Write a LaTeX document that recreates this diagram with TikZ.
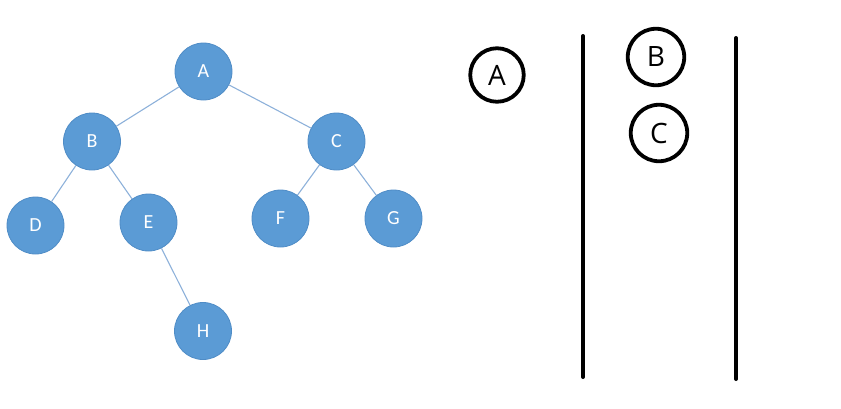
\documentclass[tikz,border=0pt]{standalone}
\usepackage{fontspec}
\newfontfamily\treefont{Carlito}
\newfontfamily\boxfont{Open Sans}
\definecolor{nodefill}{HTML}{5B9BD5}
\definecolor{nodeedge}{HTML}{4F8CC6}
\definecolor{edgecol}{HTML}{8DB1DA}
\begin{document}
\begin{tikzpicture}[x=1pt,y=-1pt,
  tnode/.style={circle,fill=nodefill,draw=nodeedge,line width=0.8pt,minimum size=57pt,inner sep=0pt,text=white,font=\treefont\fontsize{20}{20}\selectfont},
  tedge/.style={draw=edgecol,line width=1.1pt},
  snode/.style={circle,draw=black,line width=3.8pt,minimum size=53.5pt,inner sep=0pt,font=\boxfont\fontsize{28}{28}\selectfont},
  bar/.style={line width=4pt,line cap=round}]
\useasboundingbox (0,0) rectangle (841,408);
\node[tnode] (A) at (203.5,71.5) {A};
\node[tnode] (B) at (92,141.5) {B};
\node[tnode] (C) at (336.5,141.5) {C};
\node[tnode] (D) at (35.5,225.5) {D};
\node[tnode] (E) at (148.5,222.5) {E};
\node[tnode] (F) at (280.5,218.5) {F};
\node[tnode] (G) at (393.5,218.5) {G};
\node[tnode] (H) at (203,331) {H};
\draw[tedge] (A) -- (B);
\draw[tedge] (A) -- (C);
\draw[tedge] (B) -- (D);
\draw[tedge] (B) -- (E);
\draw[tedge] (C) -- (F);
\draw[tedge] (C) -- (G);
\draw[tedge] (E) -- (H);
\node[snode] (sA) at (497,75) {A};
\node[snode,minimum size=56.5pt] (sB) at (656,57) {B};
\node[snode,minimum size=56.5pt] (sC) at (659,133) {C};
\coordinate (l1t) at (583,36);
\coordinate (l1b) at (583,377);
\coordinate (l2t) at (736,38);
\coordinate (l2b) at (736,379);
\draw[bar] (l1t) -- (l1b);
\draw[bar] (l2t) -- (l2b);
\end{tikzpicture}
\end{document}
